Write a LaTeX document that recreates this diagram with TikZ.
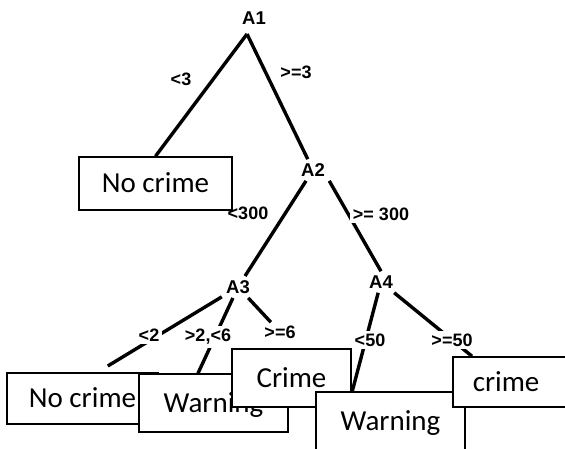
\documentclass[tikz,border=0pt]{standalone}
\usepackage{fontspec}
\setmainfont{Carlito}
\newfontfamily\lblfont{Liberation Sans}

\begin{document}
\begin{tikzpicture}[x=0.5pt, y=-0.5pt,
  attr/.style={font=\lblfont\bfseries\fontsize{9.25}{11}\selectfont, inner sep=2pt},
  cond/.style={font=\lblfont\bfseries\fontsize{9}{11}\selectfont, fill=white, inner sep=1.5pt},
  leaf/.style={draw, line width=0.75pt, fill=white, inner sep=0pt,
    font=\fontsize{14.5}{17}\selectfont, text height=9.3pt, text depth=0pt},
  branch/.style={line width=1.7pt}]
\clip (0,0) rectangle (565,448);

\node[attr] (A1) at (254,18)  {A1};
\node[attr] (A2) at (313,170) {A2};
\node[attr] (A3) at (238,287) {A3};
\node[attr] (A4) at (381,282) {A4};
\coordinate (t1) at (247,34);

\node[leaf, minimum width=76.5pt, minimum height=26.5pt] (nc1) at (155.5,183.5) {No crime};
\node[leaf, minimum width=75.5pt, minimum height=25.5pt] (nc2) at (82.5,398.5)  {No crime};
\node[leaf, minimum width=74.5pt, minimum height=29pt]   (w1)  at (213.5,403)   {Warning};
\node[leaf, minimum width=59.5pt, minimum height=29pt]   (cr1) at (291.5,378)   {Crime};
\node[leaf, minimum width=74.5pt, minimum height=29pt]   (w2)  at (390.5,421)   {Warning};
\node[leaf, anchor=west, minimum height=25pt, inner xsep=10pt, text width=50pt, align=left] (cr2) at (452,382) {crime};

\draw[branch] (t1) -- (nc1.north);
\draw[branch] (t1) -- (A2);
\draw[branch] (A2) -- (A3);
\draw[branch] (A2.south east) -- (A4.north);
\draw[branch, shorten >=6pt] (A3) -- ([xshift=7.5pt]nc2.north);
\draw[branch] (A3) -- ([xshift=-7.75pt]w1.north);
\draw[branch] (A4) -- ([xshift=18.5pt]w2.north west);
\draw[branch] (A4) -- ([xshift=10pt]cr2.north west);

\node[cond] (lt3)   at (181,79)  {<3};
\node[cond] (ge3)   at (296,72)  {>=3};
\node[cond, fill=none] (lt300) at (248,213) {<300};
\node[cond] (ge300) at (381,214) {>= 300};
\node[cond] (lt2)   at (149,335) {<2};
\node[cond] (mid26) at (208,337) {>2,<6};
\node[cond] (ge6)   at (280,332) {>=6};
\node[cond] (lt50)  at (370,340) {<50};
\node[cond] (ge50)  at (452,340) {>=50};

\draw[branch] (A3) -- (ge6);
\end{tikzpicture}
\end{document}
